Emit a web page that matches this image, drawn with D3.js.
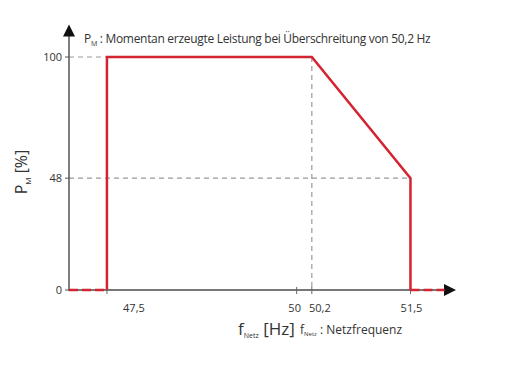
<!DOCTYPE html>
<html>
<head>
<meta charset="utf-8">
<script src="https://cdn.jsdelivr.net/npm/d3@7"></script>
<style>
  body { margin: 0; background: #fff; }
  text { font-family: "Open Sans", "DejaVu Sans", sans-serif; fill: #333; }
</style>
</head>
<body>
<script>
const width = 514, height = 365

// curve points (Hz, %)
const freqs = [47.5, 47.5, 50.2, 51.5, 51.5]
const power = [0, 100, 100, 48, 0]
const xTicks = [47.5, 50, 50.2, 51.5]
const xTickLabels = ['47,5', '50', '50,2', '51,5']
const yTicks = [0, 48, 100]

const x = d3.scaleLinear().domain([47, 52.1]).range([69, 456])
const y = d3.scaleLinear().domain([0, 100]).range([290, 57])

const svg = d3.select('body').append('svg')
  .attr('width', width)
  .attr('height', height)

const red = '#d42331'
const grid = '#9a9a9a'

// dashed helper lines
svg.append('line')
  .attr('x1', x(47)).attr('x2', x(47.5))
  .attr('y1', y(100)).attr('y2', y(100))
  .attr('stroke', grid).attr('stroke-width', 1.2).attr('stroke-dasharray', '5,4')
svg.append('line')
  .attr('x1', x(47)).attr('x2', x(51.5))
  .attr('y1', y(48)).attr('y2', y(48))
  .attr('stroke', grid).attr('stroke-width', 1.2).attr('stroke-dasharray', '5,4')
svg.append('line')
  .attr('x1', x(50.2)).attr('x2', x(50.2))
  .attr('y1', y(100)).attr('y2', y(0))
  .attr('stroke', grid).attr('stroke-width', 1.2).attr('stroke-dasharray', '5,4')

// axes
svg.append('line')
  .attr('x1', x(47)).attr('x2', x(52))
  .attr('y1', y(0)).attr('y2', y(0))
  .attr('stroke', '#777').attr('stroke-width', 2)
svg.append('line')
  .attr('x1', x(47)).attr('x2', x(47))
  .attr('y1', y(0) + 1).attr('y2', y(113))
  .attr('stroke', '#555').attr('stroke-width', 1.5)

// arrow heads
const xe = x(52.1), y0 = y(0)
svg.append('path')
  .attr('d', `M${xe},${y0} L${xe - 12},${y0 - 6} L${xe - 12},${y0 + 6} Z`)
  .attr('fill', '#111')
const ye = y(114), x0 = x(47)
svg.append('path')
  .attr('d', `M${x0},${ye} L${x0 - 6},${ye + 12} L${x0 + 6},${ye + 12} Z`)
  .attr('fill', '#111')

// y ticks
svg.selectAll('.ytick').data(yTicks).enter().append('line')
  .attr('x1', x0 - 4).attr('x2', x0)
  .attr('y1', d => y(d)).attr('y2', d => y(d))
  .attr('stroke', '#555')
svg.selectAll('.ylab').data(yTicks).enter().append('text')
  .attr('x', x0 - 7).attr('y', d => y(d) + 4)
  .attr('text-anchor', 'end')
  .attr('font-size', 11)
  .text(d => d)

// x ticks
svg.selectAll('.xtick').data(xTicks).enter().append('line')
  .attr('x1', d => x(d)).attr('x2', d => x(d))
  .attr('y1', y0 - 3).attr('y2', y0 + 4)
  .attr('stroke', '#666')
svg.selectAll('.xlab').data(xTicks).enter().append('text')
  .attr('x', (d, i) => x(d) + (i === 0 ? 27 : i === 1 ? -2 : i === 2 ? 8 : 1))
  .attr('y', 312)
  .attr('text-anchor', 'middle')
  .attr('font-size', 11)
  .text((d, i) => xTickLabels[i])

// red dashed zero segments
svg.append('line')
  .attr('x1', x(47)).attr('x2', x(47.5))
  .attr('y1', y0).attr('y2', y0)
  .attr('stroke', red).attr('stroke-width', 2.5).attr('stroke-dasharray', '9,4')
svg.append('line')
  .attr('x1', x(51.5)).attr('x2', x(51.95))
  .attr('y1', y0).attr('y2', y0)
  .attr('stroke', red).attr('stroke-width', 2.5).attr('stroke-dasharray', '9,4')

// red curve
const line = d3.line().x(d => x(d[0])).y(d => y(d[1]))
svg.append('path')
  .datum(freqs.map((f, i) => [f, power[i]]))
  .attr('d', line)
  .attr('fill', 'none')
  .attr('stroke', red)
  .attr('stroke-width', 2.5)
  .attr('stroke-linejoin', 'miter')

// title
const title = svg.append('text').attr('x', 84).attr('y', 43).attr('font-size', 12)
  .attr('letter-spacing', -0.3)
title.append('tspan').text('P')
title.append('tspan').attr('font-size', 7).attr('dy', 3).text('M')
title.append('tspan').attr('dy', -3).text(' : Momentan erzeugte Leistung bei Überschreitung von 50,2 Hz')

// y label
const ylab = svg.append('text')
  .attr('transform', 'translate(27,172) rotate(-90)')
  .attr('text-anchor', 'middle')
  .attr('font-size', 16)
ylab.append('tspan').text('P')
ylab.append('tspan').attr('font-size', 8).attr('dy', 4).text('M')
ylab.append('tspan').attr('dy', -4).text(' [%]')

// x label
const xlab = svg.append('text').attr('x', 238).attr('y', 335).attr('font-size', 17)
xlab.append('tspan').text('f')
xlab.append('tspan').attr('font-size', 7).attr('dy', 3).text('Netz')
xlab.append('tspan').attr('dy', -3).text(' [Hz]')

const note = svg.append('text').attr('x', 300).attr('y', 334).attr('font-size', 12)
note.append('tspan').text('f')
note.append('tspan').attr('font-size', 6).attr('dy', 2).text('Netz')
note.append('tspan').attr('dy', -2).text(' : Netzfrequenz')
</script>
</body>
</html>
